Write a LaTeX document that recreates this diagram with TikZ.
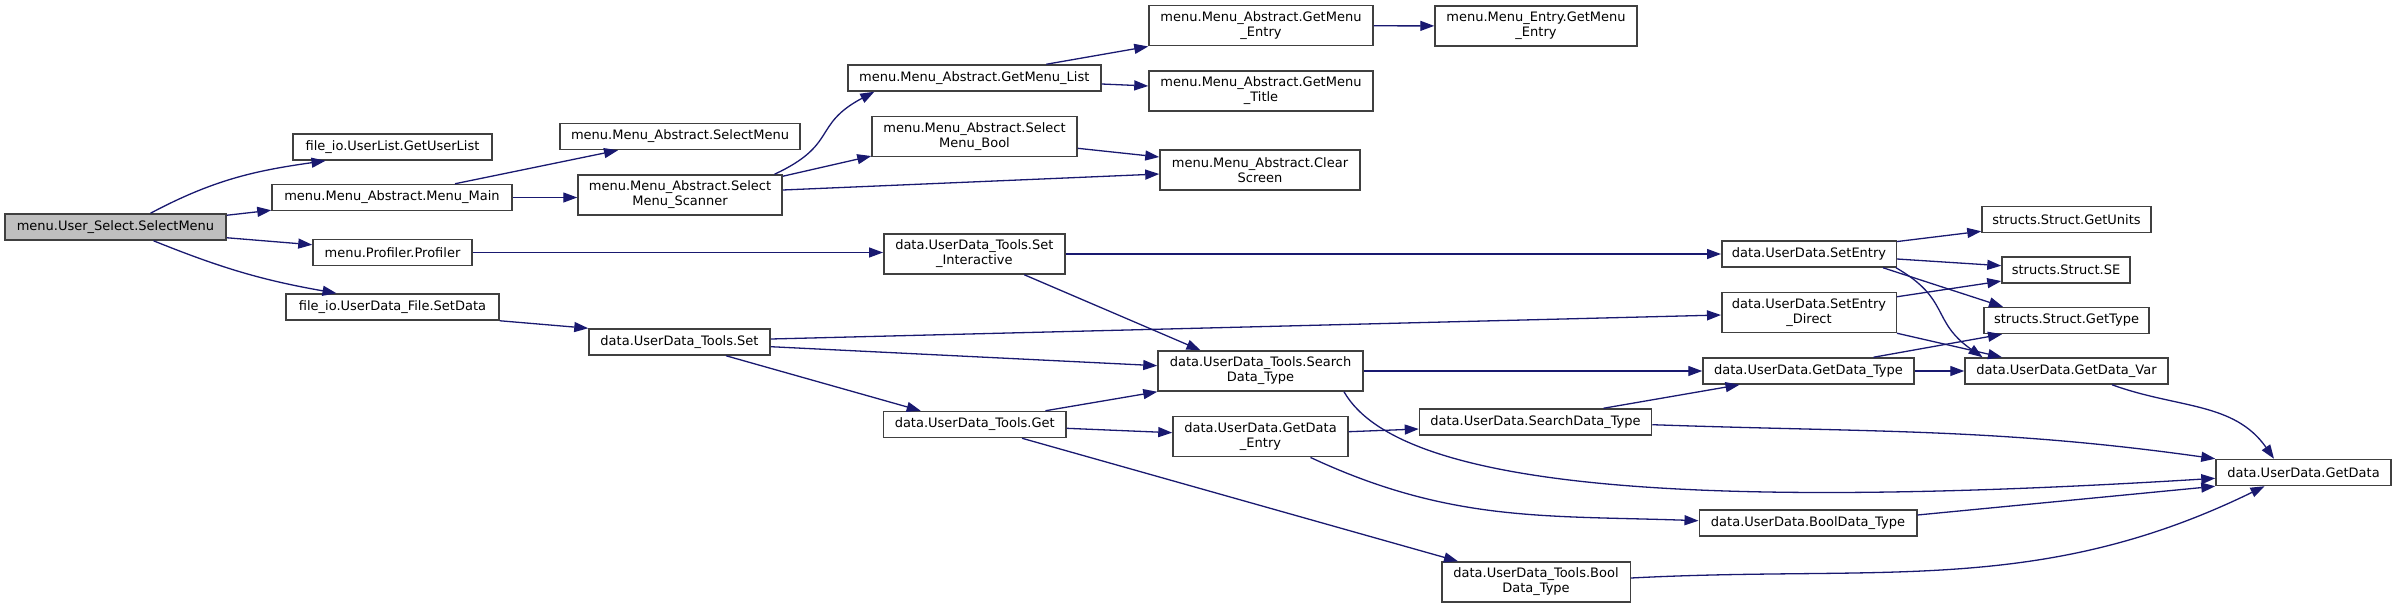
\documentclass[tikz,border=0pt]{standalone}
\usepackage{fontspec}
\setmainfont{DejaVu Sans}
\usepackage{xcolor}
\usepackage{tikz}
\usetikzlibrary{arrows.meta}

\definecolor{edgeblue}{HTML}{191970}
\newcommand{\fnfont}{\fontsize{13pt}{15pt}\selectfont}

\begin{document}
\begin{tikzpicture}[
        x=1pt, y=-1pt,
        fn/.style={draw=black!75, line width=1.5pt, fill=white, inner sep=0pt,
                   align=center, font=\fnfont, minimum height=26pt},
        fn2/.style={fn, minimum height=40pt},
        root/.style={fn, fill=gray!50},
        call/.style={->, draw=edgeblue, line width=1.3pt,
                     >={Triangle[length=14pt,width=10pt,fill=edgeblue]}},
    ]
    \useasboundingbox (0,0) rectangle (2396,608);

    % rank 0 and 1
    \node[root, minimum width=221pt] (root)        at (115.5,227) {menu.User\_Select.SelectMenu};
    \node[fn, minimum width=199pt]   (getuserlist) at (392.5,147) {file\_io.UserList.GetUserList};
    \node[fn, minimum width=240pt]   (menumain)    at (392,197.5) {menu.Menu\_Abstract.Menu\_Main};
    \node[fn, minimum width=159pt]   (profiler)    at (392.5,252.5) {menu.Profiler.Profiler};
    \node[fn, minimum width=213pt]   (setdata)     at (392.5,307) {file\_io.UserData\_File.SetData};

    % rank 2 and 3
    \node[fn, minimum width=240pt]   (abselect)    at (680,136.5) {menu.Menu\_Abstract.SelectMenu};
    \node[fn2, minimum width=204pt]  (scanner)     at (680,195) {menu.Menu\_Abstract.Select\\Menu\_Scanner};
    \node[fn, minimum width=181pt]   (toolsset)    at (679.5,342) {data.UserData\_Tools.Set};
    \node[fn, minimum width=253pt]   (getlist)     at (974.3,78) {menu.Menu\_Abstract.GetMenu\_List};
    \node[fn2, minimum width=205pt]  (selbool)     at (974.5,136.3) {menu.Menu\_Abstract.Select\\Menu\_Bool};
    \node[fn2, minimum width=181pt]  (setinter)    at (974.3,254) {data.UserData\_Tools.Set\\\_Interactive};
    \node[fn, minimum width=182.5pt] (toolsget)    at (974.7,424.5) {data.UserData\_Tools.Get};

    % rank 4 and 5
    \node[fn2, minimum width=224pt]  (absentry)    at (1261,25.7) {menu.Menu\_Abstract.GetMenu\\\_Entry};
    \node[fn2, minimum width=224pt]  (abstitle)    at (1261,91) {menu.Menu\_Abstract.GetMenu\\\_Title};
    \node[fn2, minimum width=200pt]  (clearscr)    at (1260,170) {menu.Menu\_Abstract.Clear\\Screen};
    \node[fn2, minimum width=205pt]  (toolssearch) at (1260.5,371) {data.UserData\_Tools.Search\\Data\_Type};
    \node[fn2, minimum width=175pt]  (getentry)    at (1260.5,436.7) {data.UserData.GetData\\\_Entry};
    \node[fn2, minimum width=202pt]  (entryget)    at (1536,26) {menu.Menu\_Entry.GetMenu\\\_Entry};
    \node[fn, minimum width=232pt]   (udsearch)    at (1535.5,422) {data.UserData.SearchData\_Type};
    \node[fn2, minimum width=188.5pt] (toolsbool)  at (1536,582) {data.UserData\_Tools.Bool\\Data\_Type};

    % rank 6, 7 and 8
    \node[fn, minimum width=174.5pt] (setentry)    at (1809,254) {data.UserData.SetEntry};
    \node[fn2, minimum width=174.5pt] (setdirect)  at (1809,312.5) {data.UserData.SetEntry\\\_Direct};
    \node[fn, minimum width=211pt]   (gettypeud)   at (1808.5,371) {data.UserData.GetData\_Type};
    \node[fn, minimum width=217.5pt] (boolty)      at (1808,523) {data.UserData.BoolData\_Type};
    \node[fn, minimum width=169pt]   (getunits)    at (2066.5,219.5) {structs.Struct.GetUnits};
    \node[fn, minimum width=128pt]   (structse)    at (2066,270) {structs.Struct.SE};
    \node[fn, minimum width=165pt]   (structtype)  at (2066.5,320.5) {structs.Struct.GetType};
    \node[fn, minimum width=203pt]   (getvar)      at (2066.5,371) {data.UserData.GetData\_Var};
    \node[fn, minimum width=175pt]   (getdata)     at (2303.5,472.5) {data.UserData.GetData};

    % calls from the root
    \draw[call] ([xshift=35pt]root.north) to[out=28,in=188] ([xshift=-67pt]getuserlist.south);
    \draw[call] ([yshift=-2pt]root.north east) -- ([yshift=1pt]menumain.south west);
    \draw[call] ([yshift=3pt]root.south east) -- ([yshift=-6pt]profiler.north west);
    \draw[call] ([xshift=38pt]root.south) to[out=-22,in=170] ([xshift=-56pt]setdata.north);

    % menu calls
    \draw[call] ([xshift=63pt]menumain.north) -- ([xshift=-62pt]abselect.south);
    \draw[call] (menumain.east) -- (menumain.east -| scanner.west);
    \draw[call] ([xshift=94.5pt]scanner.north) to[out=25,in=208,looseness=1.4] ([xshift=-100pt]getlist.south);
    \draw[call] ([yshift=-2pt]scanner.north east) -- ([yshift=1pt]selbool.south west);
    \draw[call] ([yshift=5pt]scanner.east) -- ([yshift=-4pt]clearscr.west);
    \draw[call] ([xshift=72pt]getlist.north) -- (absentry.south west);
    \draw[call] ([yshift=-6pt]getlist.east) -- ([yshift=5pt]abstitle.west);
    \draw[call] ([yshift=-12pt]selbool.east) -- ([yshift=13pt]clearscr.west);
    \draw[call] (absentry) -- (entryget);

    % data calls
    \draw[call] (profiler.east) -- (profiler.east -| setinter.west);
    \draw[call] (setdata.south east) -- (toolsset.north west);
    \draw[call] (setinter.east) -- (setentry.west);
    \draw[call] ([xshift=50pt]setinter.south) -- ([xshift=-60pt]toolssearch.north);
    \draw[call] ([yshift=3pt]toolsset.east) -- ([yshift=-2.5pt]setdirect.west);
    \draw[call] ([yshift=-4.7pt]toolsset.east) -- ([yshift=5.3pt]toolssearch.west);
    \draw[call] ([xshift=46.5pt]toolsset.south) -- ([xshift=-54pt]toolsget.north);
    \draw[call] ([xshift=70.7pt]toolsget.north) -- (toolssearch.south west);
    \draw[call] ([yshift=-3.8pt]toolsget.east) -- ([yshift=4pt]getentry.west);
    \draw[call] ([xshift=47.3pt]toolsget.south) -- ([xshift=-78pt]toolsbool.north);
    \draw[call] (toolssearch) -- (gettypeud);
    \draw[call] ([xshift=83.5pt]toolssearch.south) .. controls (1400,490) and (1700,510) .. ([yshift=-5.8pt]getdata.west);
    \draw[call] ([yshift=5pt]getentry.east) -- ([yshift=-7pt]udsearch.west);
    \draw[call] ([xshift=50pt]getentry.south) to[out=-25,in=178] ([yshift=2.3pt]boolty.west);
    \draw[call] ([xshift=68pt]udsearch.north) -- ([xshift=-69pt]gettypeud.south);
    \draw[call] ([yshift=-2.7pt]udsearch.east) to[out=-2,in=172] (getdata.north west);
    \draw[call] ([yshift=4pt]toolsbool.east) to[out=3,in=206] ([xshift=-39pt]getdata.south);
    \draw[call] (gettypeud) -- (getvar);
    \draw[call] ([xshift=65pt]gettypeud.north) -- ([xshift=-64.5pt]structtype.south);
    \draw[call] ([xshift=45.5pt]getvar.south) to[out=-20,in=125] ([xshift=-29.5pt]getdata.north);
    \draw[call] ([yshift=8pt]boolty.east) -- (getdata.south west);

    % struct calls
    \draw[call] ([yshift=-1.3pt]setentry.north east) -- ([yshift=2pt]getunits.south west);
    \draw[call] ([yshift=-5pt]setentry.east) -- ([yshift=4.3pt]structse.west);
    \draw[call] ([xshift=74pt]setentry.south) -- ([xshift=-63.5pt]structtype.north);
    \draw[call] ([xshift=87pt]setentry.south) to[out=-30,in=145,looseness=1.3] ([xshift=-84pt]getvar.north);
    \draw[call] ([yshift=-5pt]setdirect.north east) -- ([yshift=2.7pt]structse.south west);
    \draw[call] (setdirect.south east) -- ([xshift=-64.5pt]getvar.north);
\end{tikzpicture}
\end{document}
